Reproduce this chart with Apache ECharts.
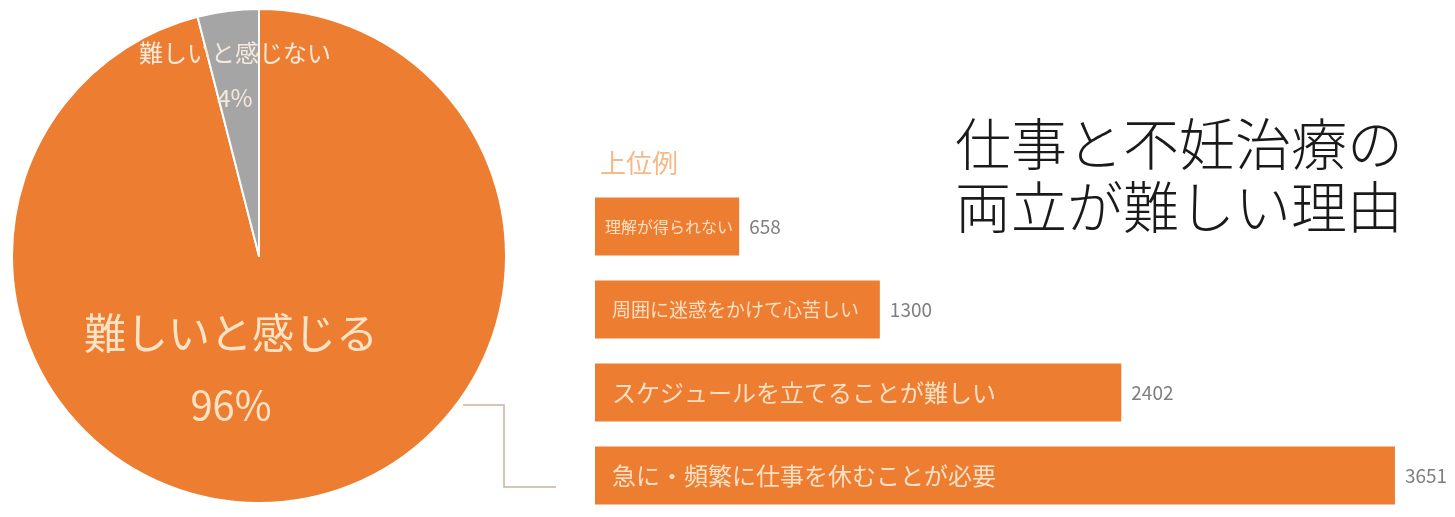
<!DOCTYPE html>
<html>
<head>
<meta charset="utf-8">
<script src="https://cdn.jsdelivr.net/npm/echarts@6/dist/echarts.min.js"></script>
<style>
  html, body { margin: 0; padding: 0; background: #ffffff; }
  #chart { width: 1455px; height: 517px; }
</style>
</head>
<body>
<div id="chart"></div>
<script>
// Share of respondents who find balancing work and fertility treatment difficult
const pieNames = ['難しいと感じる', '難しいと感じない'];
const pieValues = [96, 4];

// Top reasons (counts), listed top to bottom
const reasonNames = [
  '理解が得られない',
  '周囲に迷惑をかけて心苦しい',
  'スケジュールを立てることが難しい',
  '急に・頻繁に仕事を休むことが必要'
];
const reasonCounts = [658, 1300, 2402, 3651];

const titleLines = ['仕事と不妊治療の', '両立が難しい理由'];
const subTitle = '上位例';

const FONT = '"Noto Sans CJK JP", "Noto Sans", sans-serif';
const ORANGE = '#ED7D31';
const GREY = '#A5A5A5';

// font size of the in-bar reason text, one per bar
const reasonFont = [16, 19, 24, 24];
const reasonPad = [0, 7, 7, 7];
const rich = {};
reasonNames.forEach((_, i) => {
  rich['r' + i] = {
    fontSize: reasonFont[i],
    fontFamily: FONT,
    color: '#fde0c4',
    padding: [0, 0, 0, reasonPad[i]]
  };
});

const chart = echarts.init(document.getElementById('chart'));

chart.setOption({
  animation: false,
  backgroundColor: '#ffffff',
  title: [
    {
      text: titleLines.join('\n'),
      left: 955,
      top: 112,
      padding: 0,
      textStyle: {
        fontFamily: FONT,
        fontSize: 56,
        fontWeight: 300,
        lineHeight: 63,
        color: '#1a1a1a'
      }
    },
    {
      text: subTitle,
      left: 600,
      top: 148,
      padding: 0,
      textStyle: {
        fontFamily: FONT,
        fontSize: 26,
        fontWeight: 'normal',
        lineHeight: 30,
        color: '#f5b988'
      }
    }
  ],
  grid: {
    left: 595,
    top: 185,
    width: 810.7,
    height: 336
  },
  xAxis: {
    type: 'value',
    min: 0,
    max: 3700,
    show: false
  },
  yAxis: {
    type: 'category',
    data: reasonNames,
    inverse: true,
    z: 5,
    axisLine: { show: false },
    axisTick: { show: false },
    splitLine: { show: false },
    axisLabel: {
      inside: true,
      margin: 10,
      formatter: (name, idx) => '{r' + idx + '|' + name + '}',
      rich: rich
    }
  },
  series: [
    {
      type: 'pie',
      center: [259, 256],
      radius: 247,
      startAngle: 90,
      clockwise: true,
      silent: true,
      itemStyle: { borderColor: '#ffffff', borderWidth: 2 },
      label: {
        show: true,
        position: 'inside',
        formatter: (p) => '{n' + p.dataIndex + '|' + p.name + '}\n{p' + p.dataIndex + '|' + p.value + '%}',
        rich: {
          n0: { fontFamily: FONT, fontSize: 42, lineHeight: 72, color: '#fde3c6', align: 'center' },
          p0: { fontFamily: FONT, fontSize: 40, lineHeight: 72, color: '#fde3c6', align: 'center' },
          n1: { fontFamily: FONT, fontSize: 24, lineHeight: 45, color: '#f5e9dc', align: 'center' },
          p1: { fontFamily: FONT, fontSize: 24, lineHeight: 45, color: '#f5e9dc', align: 'center' }
        }
      },
      labelLine: { show: false },
      labelLayout: (p) => (p.dataIndex === 0
        ? { x: 231, y: 369, align: 'center', verticalAlign: 'middle' }
        : { x: 235, y: 75, align: 'center', verticalAlign: 'middle' }),
      data: pieNames.map((name, i) => ({
        name: name,
        value: pieValues[i],
        itemStyle: { color: i === 0 ? ORANGE : GREY }
      }))
    },
    {
      type: 'bar',
      data: reasonCounts,
      barWidth: 58,
      silent: true,
      itemStyle: { color: ORANGE },
      label: {
        show: true,
        position: 'right',
        distance: 10,
        fontFamily: FONT,
        fontSize: 19,
        color: '#7f7f7f'
      }
    }
  ],
  graphic: [
    {
      type: 'polyline',
      silent: true,
      shape: { points: [[463, 405], [504, 405], [504, 487], [556, 487]] },
      style: { stroke: '#c6b29c', lineWidth: 1.5, fill: null }
    }
  ]
});
</script>
</body>
</html>
